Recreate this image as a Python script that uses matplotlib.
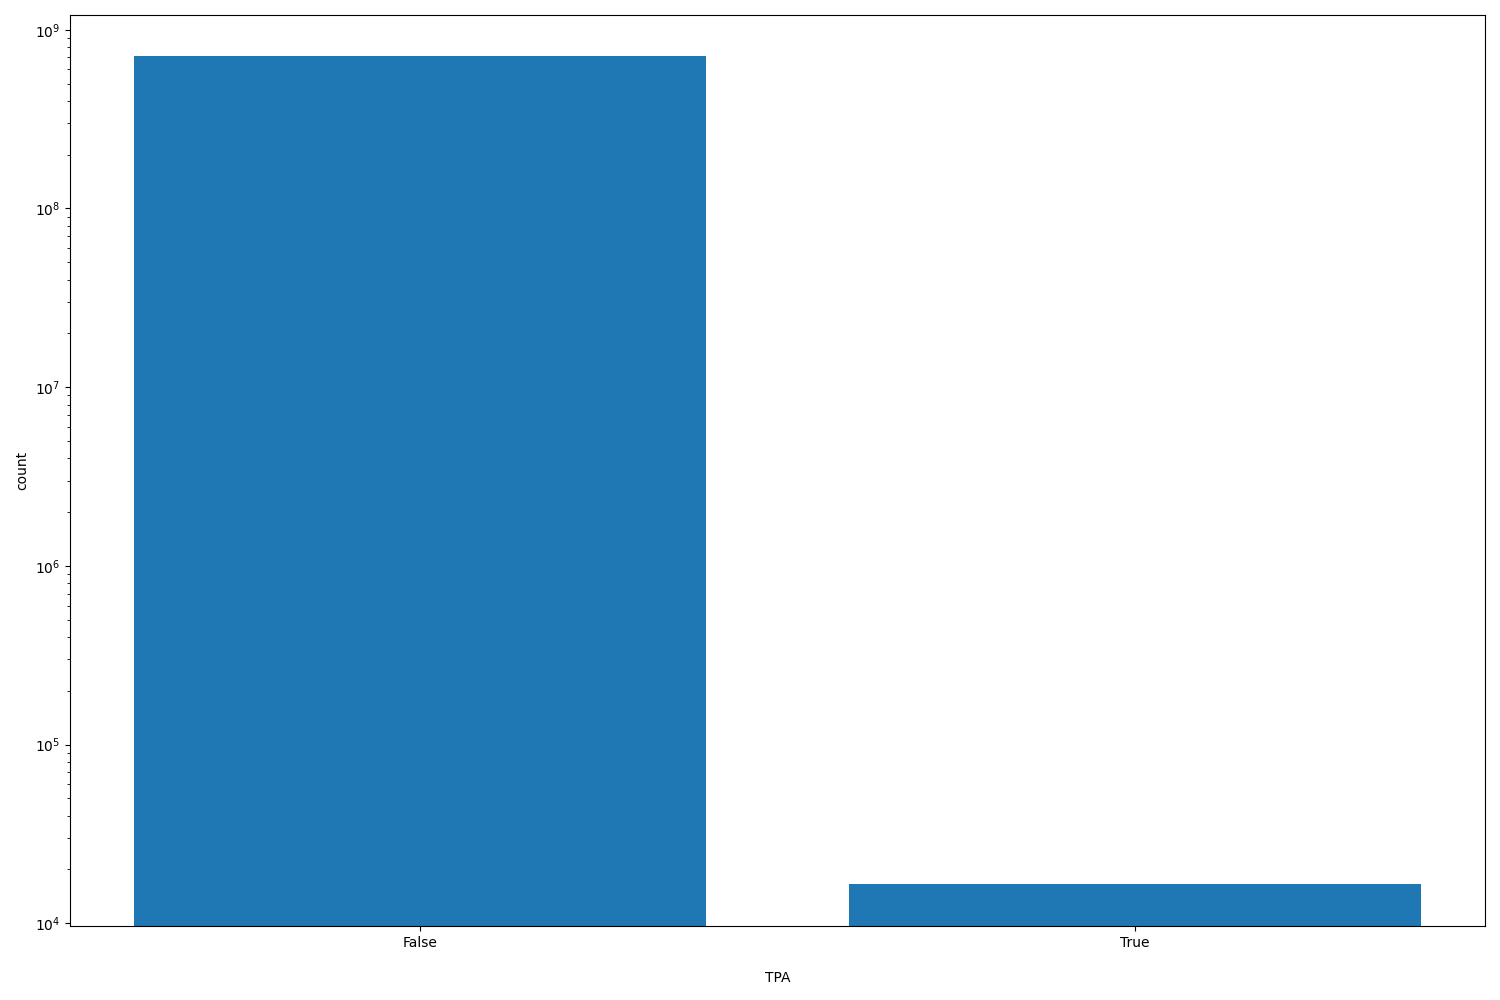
import matplotlib
matplotlib.use("Agg")
import matplotlib.pyplot as plt

categories = ["False", "True"]
counts = [7.16e8, 1.66e4]

fig, ax = plt.subplots(figsize=(15, 10), dpi=100)
ax.bar(range(len(categories)), counts, width=0.8, color="#1f77b4")
ax.set_yscale("log")
ax.set_ylim(9.6e3, 1.21e9)
ax.set_xticks(range(len(categories)))
ax.set_xticklabels(categories)
ax.set_xlabel("TPA", labelpad=15)
ax.set_ylabel("count")
fig.tight_layout()
fig.savefig("out.png")
